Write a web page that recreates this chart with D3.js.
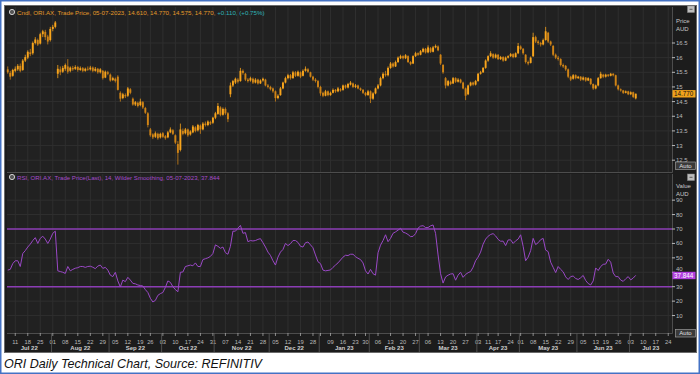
<!DOCTYPE html>
<html>
<head>
<meta charset="utf-8">
<script src="https://cdn.jsdelivr.net/npm/d3@7"></script>
<style>
  body { margin: 0; background: #fff; }
  text { font-family: "Liberation Sans", Arial, sans-serif; }
</style>
</head>
<body>
<div id="chart"></div>
<script>
{
// trading calendar (ASX), data ends 05-07-2023, axis runs a bit further
const startDay = "2022-07-06", endDay = "2023-07-25";
const holidays = ["2022-09-22", "2022-12-26", "2022-12-27", "2023-01-02", "2023-01-26",
                  "2023-04-07", "2023-04-10", "2023-04-25", "2023-06-12"];

// daily candles, one value per trading day
const open = [
 15.60,15.48,15.38,15.55,15.60,15.72,15.58,15.90,16.00,16.18,16.15,16.50,16.60,16.48,16.80,16.88,16.72,16.60,16.98,17.05,
 15.45,15.60,15.52,15.62,15.70,15.55,15.65,15.62,15.68,15.58,15.64,15.55,15.62,15.60,15.66,15.55,15.62,15.50,15.55,15.32,
 15.50,15.42,15.24,15.28,15.35,14.80,14.62,14.72,14.70,14.92,14.60,14.40,14.46,14.38,14.48,14.28,14.10,13.55,13.38,13.30,
 13.40,13.28,13.42,13.32,13.28,13.45,13.52,13.35,13.05,12.85,13.50,13.42,13.55,13.38,13.45,13.62,13.52,13.68,13.55,13.75,
 13.70,13.80,13.78,13.95,14.08,14.30,14.05,14.25,14.10,14.75,15.05,15.15,15.25,15.20,15.55,15.45,15.25,15.22,15.28,15.15,
 15.25,15.12,15.22,15.25,15.05,15.00,14.95,14.85,14.62,14.72,14.95,15.15,15.30,15.40,15.30,15.50,15.38,15.50,15.38,15.55,
 15.60,15.50,15.35,15.25,15.20,15.00,14.80,14.70,14.85,14.72,14.80,14.90,14.85,14.92,14.90,15.05,14.98,15.08,15.12,15.00,
 15.05,14.95,14.90,14.80,14.72,14.85,14.60,14.78,14.95,15.05,15.30,15.45,15.40,15.65,15.80,15.70,15.85,15.98,16.05,15.98,
 16.05,15.85,15.80,16.05,16.15,16.10,16.20,16.30,16.18,16.32,16.20,16.35,16.38,16.10,15.75,15.30,15.05,15.18,15.12,15.30,
 15.18,15.25,15.15,14.95,14.75,15.05,15.15,15.08,15.20,15.45,15.50,15.65,15.90,16.05,16.12,16.00,16.10,15.95,16.02,15.90,
 16.00,16.05,16.12,16.02,16.15,16.38,16.30,16.10,15.85,15.82,16.05,16.70,16.55,16.50,16.45,16.60,16.85,16.55,16.40,16.10,
 16.00,15.95,15.75,15.72,15.60,15.35,15.28,15.40,15.30,15.35,15.25,15.32,15.22,15.28,15.10,14.95,15.05,15.30,15.42,15.35,
 15.42,15.38,15.45,15.40,15.05,14.92,14.88,14.80,14.85,14.75,14.82,14.61];
const high = [
 15.70,15.55,15.62,15.70,15.78,15.80,15.95,16.10,16.25,16.30,16.55,16.70,16.65,16.85,16.95,16.95,16.78,17.05,17.12,17.25,
 15.75,15.70,15.72,15.80,15.95,15.70,15.72,15.74,15.72,15.70,15.68,15.66,15.70,15.72,15.70,15.68,15.65,15.64,15.58,15.56,
 15.55,15.46,15.35,15.32,15.40,14.85,14.80,14.78,15.00,14.96,14.64,14.52,14.50,14.60,14.52,14.32,14.14,13.60,13.42,13.48,
 13.44,13.44,13.46,13.36,13.50,13.62,13.56,13.38,13.15,13.75,13.58,13.60,13.58,13.52,13.70,13.66,13.74,13.72,13.80,13.82,
 13.86,13.85,13.98,14.15,14.45,14.34,14.30,14.30,14.14,15.15,15.24,15.32,15.30,15.65,15.60,15.48,15.30,15.35,15.32,15.30,
 15.28,15.26,15.32,15.28,15.10,15.04,14.98,14.88,14.75,15.00,15.18,15.35,15.45,15.44,15.55,15.54,15.56,15.53,15.60,15.70,
 15.64,15.52,15.38,15.30,15.24,15.04,14.84,14.90,14.88,14.84,14.95,14.93,15.00,14.96,15.08,15.08,15.14,15.20,15.15,15.10,
 15.08,14.98,14.93,14.83,14.90,14.88,14.82,14.98,15.10,15.35,15.50,15.55,15.70,15.85,15.84,15.90,16.04,16.10,16.08,16.12,
 16.08,15.88,16.08,16.20,16.18,16.26,16.34,16.33,16.42,16.36,16.40,16.45,16.42,16.12,15.78,15.34,15.24,15.22,15.34,15.33,
 15.30,15.28,15.18,14.98,15.08,15.18,15.18,15.24,15.48,15.55,15.68,15.94,16.08,16.22,16.15,16.14,16.12,16.06,16.05,16.04,
 16.08,16.16,16.15,16.18,16.50,16.42,16.33,16.12,15.90,16.04,16.85,16.75,16.60,16.54,16.65,17.05,16.88,16.58,16.43,16.14,
 16.06,15.98,15.80,15.75,15.63,15.38,15.44,15.43,15.38,15.37,15.36,15.34,15.33,15.30,15.12,15.08,15.34,15.52,15.45,15.45,
 15.44,15.48,15.47,15.42,15.08,14.95,14.90,14.88,14.87,14.85,14.84,14.77];
const low = [
 15.45,15.25,15.35,15.50,15.55,15.50,15.55,15.85,15.95,16.05,16.10,16.45,16.40,16.45,16.70,16.60,16.45,16.55,16.90,17.00,
 15.30,15.40,15.48,15.55,15.45,15.50,15.55,15.58,15.52,15.55,15.50,15.52,15.55,15.56,15.50,15.52,15.45,15.46,15.25,15.30,
 15.40,15.18,15.20,15.15,14.88,14.50,14.58,14.62,14.66,14.75,14.36,14.35,14.30,14.34,14.25,14.08,13.62,13.30,13.22,13.26,
 13.20,13.24,13.26,13.20,13.25,13.42,13.36,13.05,12.35,12.80,13.35,13.38,13.30,13.34,13.42,13.45,13.48,13.40,13.52,13.65,
 13.66,13.70,13.74,13.90,14.05,14.00,14.02,14.05,13.80,14.65,15.00,15.10,15.12,15.18,15.42,15.20,15.15,15.18,15.10,15.12,
 15.08,15.10,15.18,15.02,14.95,14.88,14.80,14.50,14.58,14.70,14.92,15.12,15.26,15.25,15.28,15.34,15.35,15.30,15.36,15.52,
 15.48,15.32,15.20,15.15,14.95,14.70,14.65,14.68,14.68,14.70,14.78,14.80,14.82,14.84,14.87,14.94,14.95,15.05,14.96,14.96,
 14.92,14.86,14.76,14.68,14.70,14.45,14.56,14.75,14.92,15.02,15.26,15.35,15.36,15.62,15.66,15.68,15.82,15.95,15.94,15.95,
 15.82,15.74,15.78,16.02,16.06,16.08,16.17,16.14,16.15,16.16,16.18,16.32,16.22,15.75,15.45,14.95,15.02,15.06,15.10,15.14,
 15.15,15.12,14.92,14.55,14.72,15.02,15.04,15.05,15.18,15.42,15.48,15.62,15.86,16.02,15.96,15.97,15.92,15.92,15.86,15.88,
 15.97,16.02,15.98,16.00,16.12,16.26,16.10,15.80,15.74,15.80,16.02,16.50,16.44,16.38,16.42,16.58,16.50,16.40,16.05,15.95,
 15.90,15.70,15.65,15.55,15.30,15.20,15.25,15.26,15.27,15.20,15.22,15.18,15.20,15.06,14.90,14.92,15.02,15.28,15.30,15.32,
 15.34,15.36,15.36,15.02,14.88,14.84,14.76,14.78,14.72,14.72,14.62,14.575];
const close = [
 15.50,15.35,15.58,15.62,15.72,15.55,15.90,16.02,16.20,16.12,16.50,16.62,16.45,16.80,16.90,16.70,16.55,16.98,17.05,17.20,
 15.62,15.50,15.65,15.75,15.52,15.66,15.60,15.68,15.58,15.64,15.55,15.62,15.60,15.66,15.55,15.62,15.50,15.60,15.30,15.52,
 15.45,15.22,15.30,15.20,14.90,14.60,14.75,14.68,14.95,14.80,14.40,14.48,14.35,14.50,14.30,14.12,13.70,13.35,13.28,13.42,
 13.25,13.40,13.30,13.25,13.45,13.55,13.40,13.10,12.75,13.55,13.40,13.55,13.35,13.48,13.65,13.50,13.70,13.55,13.75,13.70,
 13.82,13.75,13.95,14.10,14.35,14.05,14.25,14.10,13.90,15.05,15.20,15.28,15.18,15.55,15.48,15.25,15.20,15.30,15.15,15.25,
 15.12,15.22,15.28,15.05,15.00,14.92,14.85,14.62,14.70,14.95,15.15,15.30,15.40,15.30,15.50,15.38,15.52,15.35,15.55,15.62,
 15.52,15.35,15.25,15.20,15.00,14.78,14.70,14.85,14.72,14.80,14.90,14.85,14.95,14.88,15.05,14.98,15.10,15.15,15.00,15.05,
 14.95,14.90,14.80,14.72,14.85,14.60,14.78,14.95,15.05,15.30,15.45,15.40,15.65,15.80,15.70,15.85,16.00,16.05,15.98,16.08,
 15.85,15.78,16.05,16.15,16.10,16.22,16.30,16.18,16.35,16.20,16.35,16.40,16.25,15.80,15.50,15.05,15.20,15.10,15.30,15.18,
 15.25,15.15,14.95,14.70,15.05,15.15,15.08,15.20,15.45,15.50,15.65,15.90,16.05,16.15,16.00,16.10,15.95,16.02,15.90,16.00,
 16.05,16.12,16.02,16.15,16.40,16.30,16.15,15.85,15.80,16.00,16.70,16.55,16.50,16.45,16.60,16.90,16.55,16.45,16.10,16.00,
 15.95,15.75,15.70,15.60,15.35,15.25,15.40,15.30,15.35,15.25,15.32,15.22,15.30,15.10,14.95,15.05,15.30,15.45,15.35,15.42,
 15.38,15.45,15.40,15.05,14.92,14.88,14.80,14.85,14.75,14.82,14.66,14.77];

// RSI 14
const rsi = [
 41.5,42,46,48,48,44,53,55,57.5,59.5,62,64,60,63.5,65,63,60,63,67,68.5,
 41,40.5,40,39.2,44,41,42,42.8,43.2,44,44,43.4,44,44.2,43.5,42.5,44.3,45,42.7,43.4,
 41.5,38,37,40,34,29.8,34.6,33.5,36.5,34.6,32.3,32,31.2,30.8,30.5,28,26,22,19.4,20.5,
 24,25.2,26,29.5,34,33,30,28,26.5,40,40.2,44,44.5,45,44.5,46.5,44,44,48.8,49.4,
 50,51,53,59,58,56.6,57.5,53.6,52.5,58,68.5,68.5,70.5,72.5,67,67.5,61.2,62,61.7,62,
 62.8,63.3,60.5,57.5,54,51.7,48,45,50.5,54,55.8,60,58.5,59.8,62,62,60.7,58,57.5,60.5,
 61,59,57,52,47.3,46,41.5,41,41.3,41.6,43.4,45,46.5,48.5,50.5,51.8,51.6,52.5,52.5,50.8,
 49.7,48.8,46.5,41,38.8,42,39,38,53.5,58.8,62,66,61.2,63.5,67,68,69.2,70.5,67.8,67.2,
 66.2,64.7,64.9,66.8,70.6,72,72.3,71,71,72.2,72.8,67,52,39,32.5,36.8,38,38.8,39,34.5,
 38,40,36.5,38.5,39.7,40.5,43.5,48,50.5,54,59.5,63,65,66.2,66.8,65.2,62.8,61.5,61.6,58.5,
 62.4,62.5,60,61.8,63,66,58,48,50.5,55,63.5,59.2,60.5,62.6,63.5,55.4,54.3,47,43.4,39.8,
 44,42,40.3,36.8,35,37,37.4,35.7,35,36.2,37.8,34.3,32.2,31.2,34,43,41.2,44,45.5,45.7,
 49,47,39.5,37,37,34.6,33.7,35.5,37,34.7,36,37.844];

const priceTicks = [12.5, 13, 13.5, 14, 14.5, 15, 15.5, 16, 16.5];
const rsiTicks = [10, 20, 30, 40, 50, 60, 70, 80, 90];
const rsiBands = [70, 30];
const lastPrice = 14.77, lastPriceLabel = "14.770";
const lastRsi = 37.844, lastRsiLabel = "37.844";
const priceLegend = "Cndl, ORI.AX, Trade Price, 05-07-2023, 14.610, 14.770, 14.575, 14.770, ";
const priceChange = "+0.110, (+0.75%)";
const rsiLegend = "RSI, ORI.AX, Trade Price(Last),  14, Wilder Smoothing, 05-07-2023, 37.844";
const caption = "ORI Daily Technical Chart, Source: REFINITIV";

// layout
const W = 700, H = 374;
const left = 7, right = 672;
const top1 = 7, bot1 = 172;
const top2 = 174, bot2 = 333;
const axisBot = 352;

const bgColor = "#1c1c1c", plotBg = "#212121", gridColor = "#2f2f2f", frameColor = "#4d4d4d";
const upColor = "#f9a51c", downColor = "#d08416";
const rsiColor = "#9a48c6";
const labelColor = "#b9b9b9";

const parse = d3.timeParse("%Y-%m-%d"), fmt = d3.timeFormat("%Y-%m-%d");
const days = d3.timeDay.range(parse(startDay), d3.timeDay.offset(parse(endDay), 1))
    .filter(d => d.getDay() > 0 && d.getDay() < 6 && !holidays.includes(fmt(d)));
const keys = days.map(fmt);

const x = d3.scaleBand().domain(keys).range([6.5, right]);
const cx = i => x(keys[i]) + x.bandwidth() / 2;

const yP = d3.scaleLinear().domain([12.5, 16.5]).range([160.2, 43]);
const yR = d3.scaleLinear().domain([30, 70]).range([286.7, 229]);

const svg = d3.select("#chart").append("svg")
    .attr("width", W).attr("height", H);

// page frame
svg.append("rect").attr("x", 0.75).attr("y", 0.75).attr("width", W - 1.5).attr("height", H - 1.5)
    .attr("fill", "#fff").attr("stroke", "#4472c4").attr("stroke-width", 1.5);
svg.append("rect").attr("x", 4.5).attr("y", 5.5).attr("width", 692).attr("height", axisBot - 5)
    .attr("fill", bgColor).attr("stroke", "#6a6a6a").attr("stroke-width", 1);

// plot backgrounds
[[top1, bot1], [top2, bot2]].forEach(([a, b]) => {
    svg.append("rect").attr("x", left).attr("y", a).attr("width", right - left).attr("height", b - a)
        .attr("fill", plotBg);
});

// weekly ticks: first trading day of each week
const weekIdx = [], labelIdx = [], monthIdx = [];
let lastLab = -10;
days.forEach((d, i) => {
    if (i === 0) return;
    const p = days[i - 1];
    if (d3.timeMonday.floor(d) > p) {
        weekIdx.push(i);
        if (i - lastLab >= 4) { labelIdx.push(i); lastLab = i; }
    }
    if (d.getMonth() !== p.getMonth()) monthIdx.push(i);
});

// grid
[[top1, bot1], [top2, bot2]].forEach(([a, b]) => {
    svg.append("g").selectAll("line").data(weekIdx).join("line")
        .attr("x1", i => cx(i)).attr("x2", i => cx(i))
        .attr("y1", a).attr("y2", b)
        .attr("stroke", gridColor).attr("stroke-width", 1);
});
svg.append("g").selectAll("line").data(priceTicks).join("line")
    .attr("x1", left).attr("x2", right).attr("y1", d => yP(d)).attr("y2", d => yP(d))
    .attr("stroke", gridColor);
svg.append("g").selectAll("line").data(rsiTicks).join("line")
    .attr("x1", left).attr("x2", right).attr("y1", d => yR(d)).attr("y2", d => yR(d))
    .attr("stroke", gridColor);

// panel frames
[[top1, bot1], [top2, bot2]].forEach(([a, b]) => {
    svg.append("path")
        .attr("d", `M${left},${b + 0.5}H${right + 0.5}V${a}`)
        .attr("fill", "none").attr("stroke", frameColor);
});

// candles
const candles = svg.append("g");
close.forEach((c, i) => {
    const o = open[i];
    const col = c >= o ? upColor : downColor;
    candles.append("line")
        .attr("x1", cx(i)).attr("x2", cx(i))
        .attr("y1", yP(high[i])).attr("y2", yP(low[i]))
        .attr("stroke", col).attr("stroke-width", 0.8);
    const yt = yP(Math.max(o, c)), yb = yP(Math.min(o, c));
    candles.append("rect")
        .attr("x", cx(i) - 0.95).attr("width", 1.9)
        .attr("y", yt).attr("height", Math.max(0.8, yb - yt))
        .attr("fill", col);
});

// rsi bands and line
svg.append("g").selectAll("line").data(rsiBands).join("line")
    .attr("x1", left).attr("x2", right).attr("y1", d => yR(d)).attr("y2", d => yR(d))
    .attr("stroke", "#8b3db5").attr("stroke-width", 1.5);

svg.append("path")
    .datum(rsi)
    .attr("d", d3.line().x((d, i) => cx(i)).y(d => yR(d)))
    .attr("fill", "none").attr("stroke", rsiColor).attr("stroke-width", 1);

// right axes; a label sitting under the value tag is nudged up like the reference
function rightAxis(scale, ticks, tagY) {
    const g = svg.append("g");
    g.selectAll("line").data(ticks).join("line")
        .attr("x1", right).attr("x2", right + 3)
        .attr("y1", d => scale(d)).attr("y2", d => scale(d))
        .attr("stroke", labelColor);
    g.selectAll("text").data(ticks).join("text")
        .attr("x", right + 4)
        .attr("y", d => {
            const yy = scale(d) + 2;
            return Math.abs(scale(d) - tagY) < 7 && scale(d) < tagY ? tagY - 4.3 : yy;
        })
        .attr("font-size", 6).attr("fill", labelColor)
        .text(d => d);
}
rightAxis(yP, priceTicks, yP(lastPrice));
rightAxis(yR, rsiTicks, yR(lastRsi));

const heads = [["Price", 23], ["AUD", 31], ["Value", 188], ["AUD", 196]];
svg.append("g").selectAll("text").data(heads).join("text")
    .attr("x", right + 4).attr("y", d => d[1])
    .attr("font-size", 6).attr("fill", "#c8c8c8").text(d => d[0]);

// last value tags
svg.append("rect").attr("x", right + 0.5).attr("y", yP(lastPrice) - 3.6).attr("width", 23).attr("height", 7.4)
    .attr("fill", "#f0a31c");
svg.append("text").attr("x", right + 2).attr("y", yP(lastPrice) + 2.2)
    .attr("font-size", 6.3).attr("fill", "#111").text(lastPriceLabel);
svg.append("rect").attr("x", right + 0.5).attr("y", yR(lastRsi) - 3.6).attr("width", 23).attr("height", 7.4)
    .attr("fill", "#b23fe0");
svg.append("text").attr("x", right + 2).attr("y", yR(lastRsi) + 2.2)
    .attr("font-size", 6.3).attr("fill", "#fff").text(lastRsiLabel);

// small buttons
[[162, "Auto"], [329.5, "Auto"]].forEach(([yy, t]) => {
    svg.append("rect").attr("x", right + 3.5).attr("y", yy).attr("width", 20).attr("height", 7.5)
        .attr("fill", "#3a3a3a").attr("stroke", "#9a9a9a").attr("stroke-width", 0.7);
    svg.append("text").attr("x", right + 13.5).attr("y", yy + 5.8).attr("text-anchor", "middle")
        .attr("font-size", 6).attr("fill", "#e0e0e0").text(t);
});
[6, 174].forEach(yy => {
    svg.append("rect").attr("x", 687.5).attr("y", yy).attr("width", 7).attr("height", 6.5)
        .attr("fill", "#bdbdbd").attr("stroke", "#888").attr("stroke-width", 0.5);
    svg.append("line").attr("x1", 689.5).attr("x2", 692.5).attr("y1", yy + 3.3).attr("y2", yy + 3.3)
        .attr("stroke", "#444").attr("stroke-width", 0.8);
});

// legends
[[12, 12], [12, 177]].forEach(([lx, ly]) => {
    svg.append("circle").attr("cx", lx).attr("cy", ly).attr("r", 2.6)
        .attr("fill", "#555").attr("stroke", "#d0d0d0").attr("stroke-width", 1);
});
const leg1 = svg.append("text").attr("x", 17).attr("y", 14.5).attr("font-size", 6.2);
leg1.append("tspan").attr("fill", "#e39a2a").text(priceLegend);
leg1.append("tspan").attr("fill", "#2fb4b8").text(priceChange);
svg.append("text").attr("x", 17).attr("y", 179.5).attr("font-size", 6.1)
    .attr("fill", "#a64bcc").text(rsiLegend);

// x axis
svg.append("line").attr("x1", left).attr("x2", right).attr("y1", bot2 + 0.5).attr("y2", bot2 + 0.5)
    .attr("stroke", frameColor);
svg.append("g").selectAll("line").data(weekIdx).join("line")
    .attr("x1", i => cx(i)).attr("x2", i => cx(i))
    .attr("y1", bot2).attr("y2", bot2 + 3)
    .attr("stroke", labelColor).attr("stroke-width", 0.7);
svg.append("g").selectAll("text").data(labelIdx).join("text")
    .attr("x", i => cx(i)).attr("y", bot2 + 10.5).attr("text-anchor", "middle")
    .attr("font-size", 5.8).attr("fill", labelColor)
    .text(i => d3.timeFormat("%d")(days[i]));

const sepX = monthIdx.map(i => x(keys[i]));
svg.append("g").selectAll("line").data(sepX).join("line")
    .attr("x1", d => d).attr("x2", d => d).attr("y1", bot2).attr("y2", axisBot)
    .attr("stroke", "#5a5a5a").attr("stroke-width", 0.8);

const bounds = [left].concat(sepX, [right]);
const monthStarts = [0].concat(monthIdx);
svg.append("g").selectAll("text").data(monthStarts).join("text")
    .attr("x", (d, k) => (bounds[k] + bounds[k + 1]) / 2)
    .attr("y", bot2 + 17.3).attr("text-anchor", "middle")
    .attr("font-size", 6).attr("font-weight", "bold").attr("fill", "#cfcfcf")
    .text(i => d3.timeFormat("%b %y")(days[i]));

// caption
svg.append("text").attr("x", 4).attr("y", 368)
    .attr("font-family", "Lato, 'Open Sans', sans-serif")
    .attr("font-style", "italic").attr("font-size", 13).attr("fill", "#111")
    .attr("textLength", 258).attr("lengthAdjust", "spacingAndGlyphs")
    .text(caption);
}
</script>
</body>
</html>
